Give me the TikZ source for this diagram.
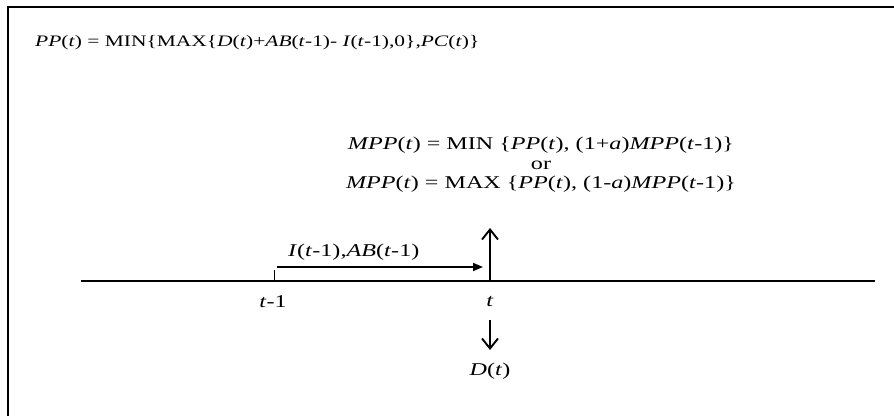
\documentclass[tikz,border=0pt]{standalone}
\usepackage{fontspec}
\setmainfont{Liberation Serif}[FakeStretch=1.34]
\usepackage{tikz}
\usetikzlibrary{positioning, arrows.meta}
\newcommand{\itv}[1]{\textit{#1}}

\begin{document}
\begin{tikzpicture}[
  x=1pt, y=-1pt,
  eqn/.style={font=\fontsize{18}{19.5}\selectfont, inner sep=0pt, align=center},
  lbl/.style={font=\fontsize{18}{19.5}\selectfont, inner sep=0pt},
  frameline/.style={line width=2.4pt},
  axis/.style={line width=1.3pt},
  flow/.style={-{Triangle[length=10pt,width=8pt]}, line width=1.6pt},
  vert/.style={-{Straight Barb[length=10pt,width=16pt]}, line width=1.9pt},
]
\useasboundingbox (0,0) rectangle (894,415);
\clip (0,0) rectangle (894,415);

% Frame (cut off at right and bottom)
\draw[frameline] (8,7) rectangle (920,440);

% Equations
\node[eqn, font=\fontsize{16}{18}\selectfont, anchor=west] (pp) at (35,43) {\itv{PP}(\itv{t}) = MIN\{MAX\{\itv{D}(\itv{t})+\itv{AB}(\itv{t}-1)- \itv{I}(\itv{t}-1),0\},\itv{PC}(\itv{t})\}};

\node[eqn] (mpp) at (541,165) {%
  \itv{MPP}(\itv{t}) = MIN \{\itv{PP}(\itv{t}), (1+\itv{a})\itv{MPP}(\itv{t}-1)\}\\
  or\\
  \itv{MPP}(\itv{t}) = MAX \{\itv{PP}(\itv{t}), (1-\itv{a})\itv{MPP}(\itv{t}-1)\}};

% Time axis
\coordinate (axl) at (81,281);
\coordinate (axr) at (875,281);
\coordinate (tprev) at (274,281);
\coordinate (tnow) at (490,281);
\draw[axis] (axl) -- (axr);
\draw[line width=1pt] (tprev) -- ++(0,-11) coordinate (tick);

\node[lbl] (lprev) at (273,302) {\itv{t}-1};
\node[lbl] (lnow) at (490,302) {\itv{t}};
\node[lbl] (ldem) at (490,371) {\itv{D}(\itv{t})};
\node[lbl, anchor=west] (linv) at (288,252) {\itv{I}(\itv{t}-1),\itv{AB}(\itv{t}-1)};

% Arrows
\coordinate (hs) at (277,267);
\coordinate (he) at (483,267);
\coordinate (up) at (490,228);
\coordinate (ds) at (490,320);
\coordinate (de) at (490,350);
\draw[flow] (hs) -- (he);
\draw[vert] (tnow) -- (up);
\draw[vert] (ds) -- (de);

\end{tikzpicture}
\end{document}
